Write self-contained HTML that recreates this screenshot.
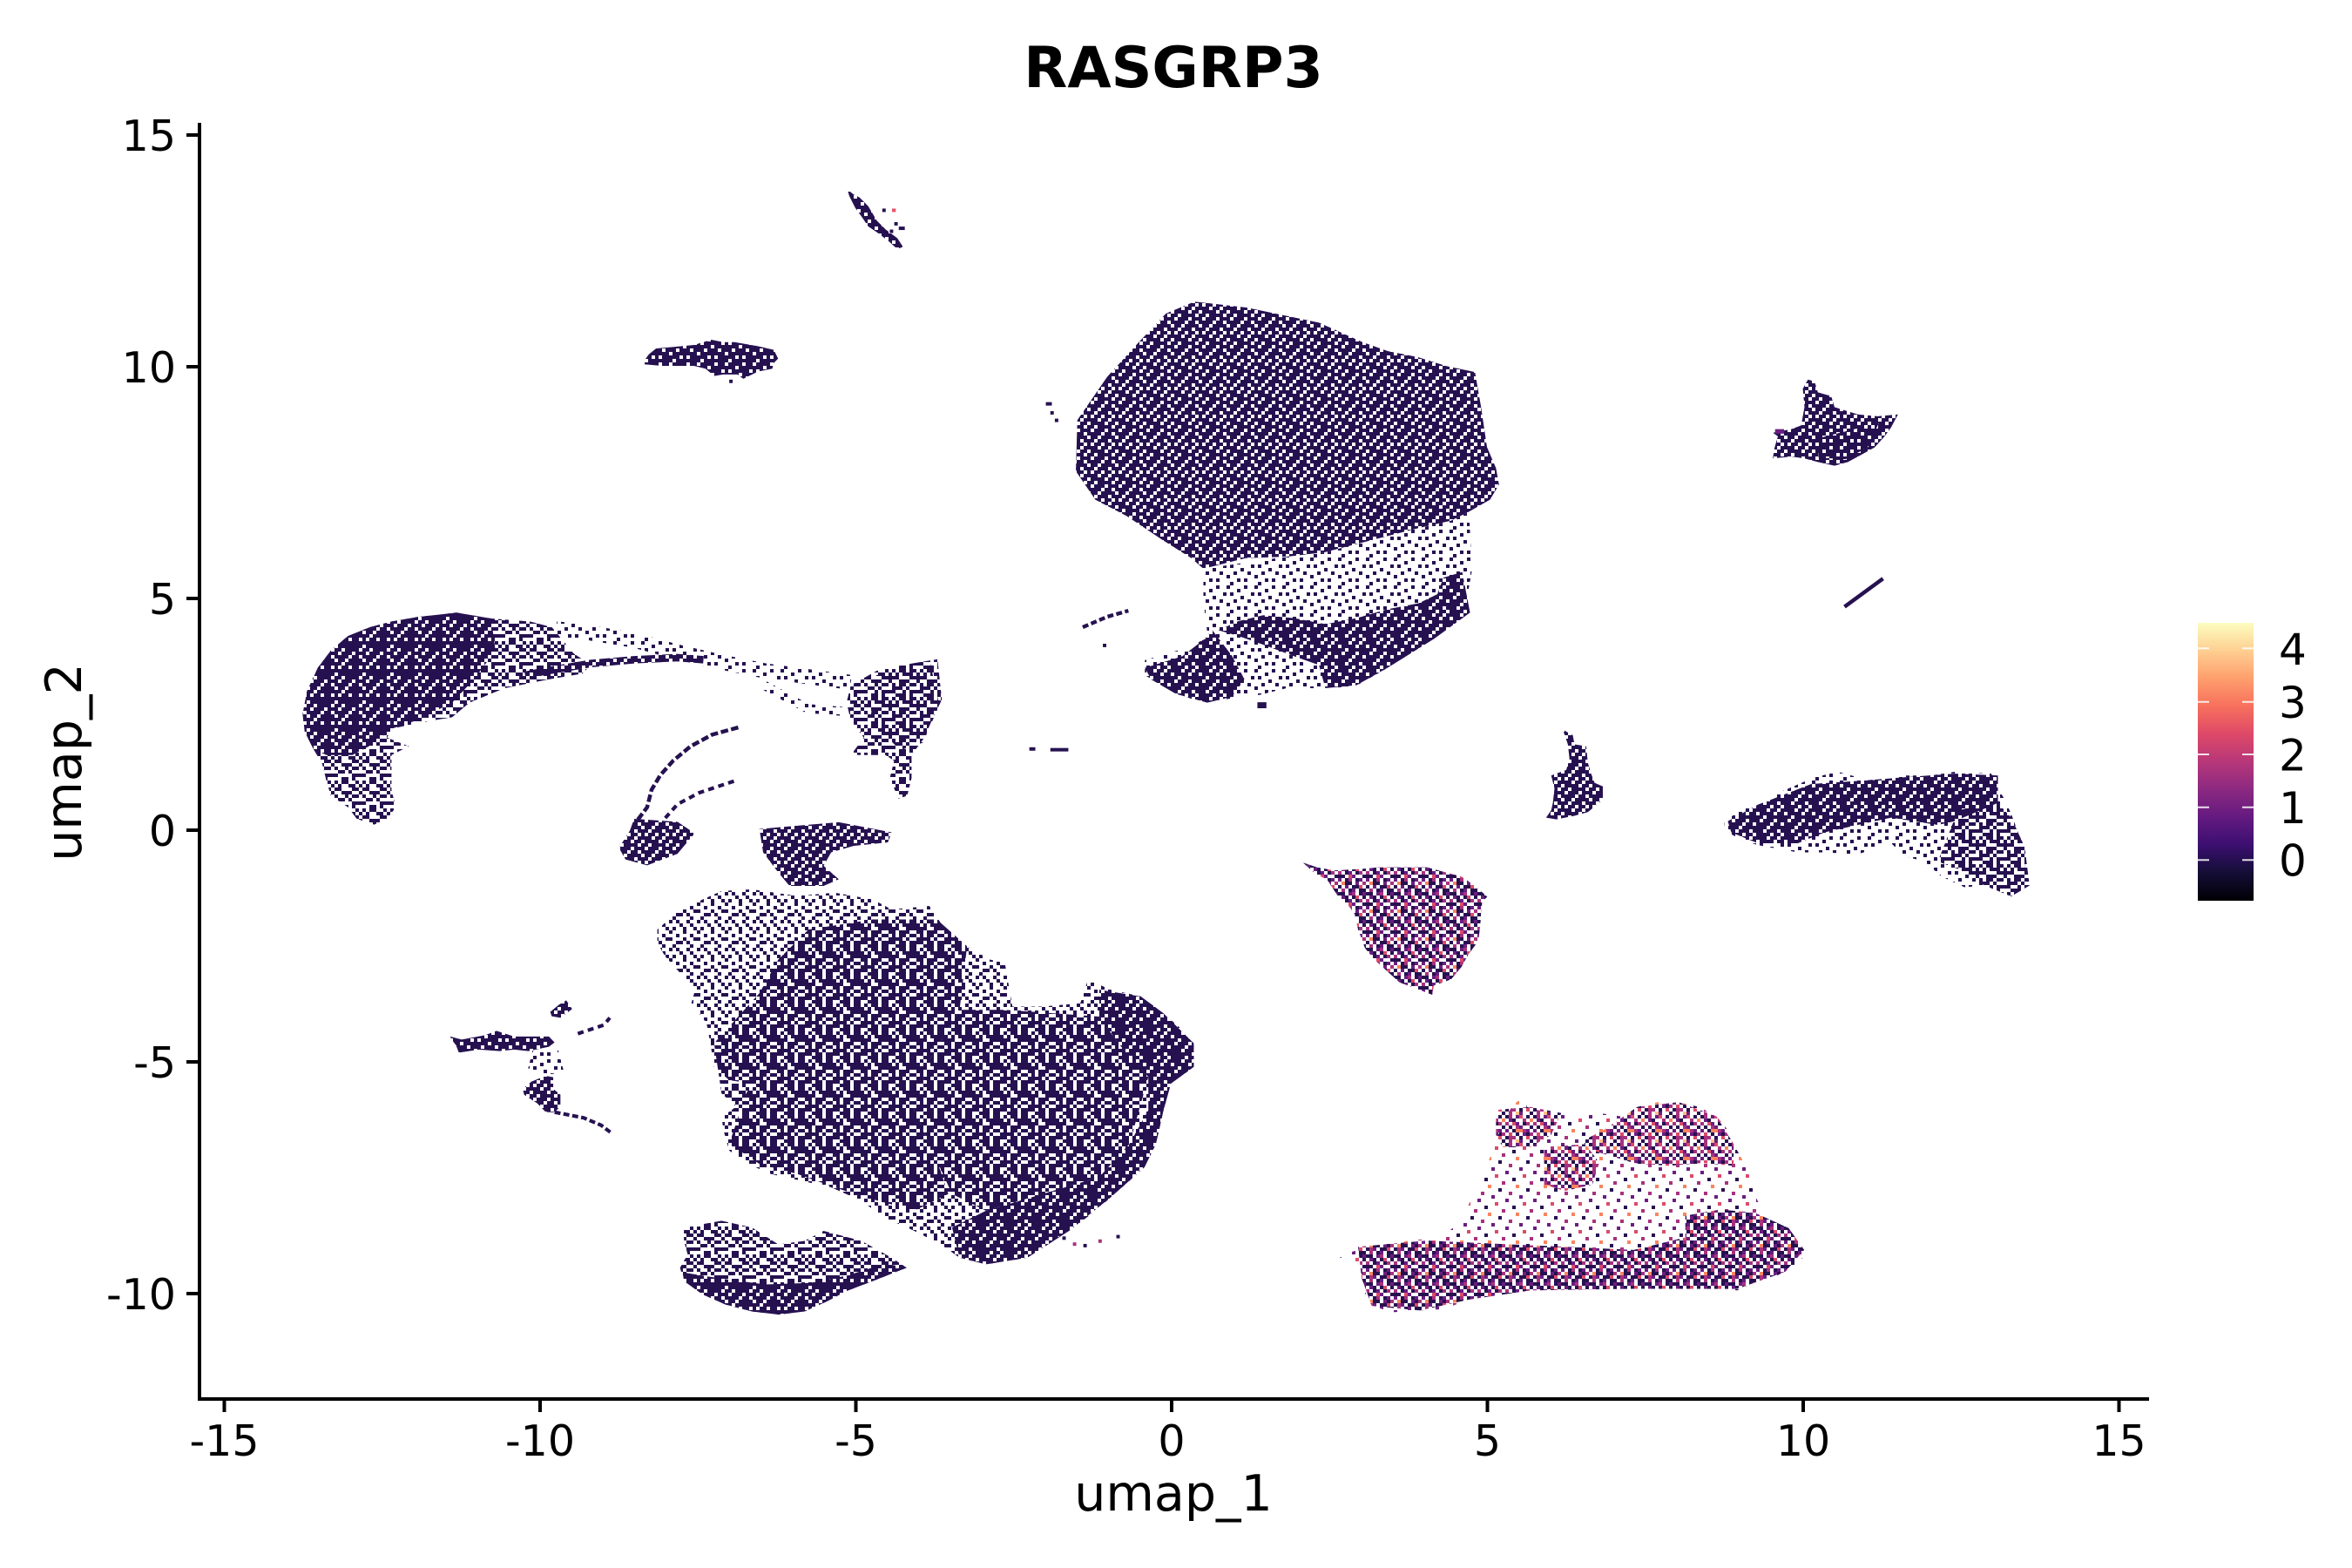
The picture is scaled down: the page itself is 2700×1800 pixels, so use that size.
<!DOCTYPE html>
<html><head><meta charset="utf-8"><style>html,body{margin:0;padding:0;background:#fff}svg{display:block}</style></head>
<body>
<svg xmlns="http://www.w3.org/2000/svg" width="2700" height="1800" viewBox="0 0 2700 1800">
<defs>
<pattern id="pD" patternUnits="userSpaceOnUse" width="32" height="32" patternTransform="scale(0.58055)"><path fill="#261150" d="M0 0h12v4H0z M16 0h8v4h-8z M28 0h4v4h-4z M4 4h16v4H4z M24 4h8v4h-8z M0 8h8v4H0z M12 8h16v4H12z M0 12h4v4H0z M8 12h12v4H8z M24 12h8v4h-8z M0 16h16v4H0z M20 16h8v4h-8z M4 20h8v4H4z M16 20h16v4H16z M0 24h8v4H0z M12 24h12v4H12z M28 24h4v4h-4z M0 28h4v4H0z M8 28h8v4H8z M20 28h8v4h-8z"/></pattern>
<pattern id="pM" patternUnits="userSpaceOnUse" width="32" height="32" patternTransform="scale(0.58055)"><path fill="#261150" d="M0 0h4v4H0z M8 0h8v4H8z M24 0h4v4h-4z M4 4h4v4H4z M16 4h8v4h-8z M28 4h4v4h-4z M0 8h8v4H0z M20 8h8v4h-8z M8 12h12v4H8z M28 12h4v4h-4z M0 16h4v4H0z M12 16h4v4h-4z M20 16h8v4h-8z M4 20h8v4H4z M16 20h4v4h-4z M0 24h4v4H0z M20 24h12v4H20z M8 28h8v4H8z M20 28h4v4h-4z"/></pattern>
<pattern id="pS" patternUnits="userSpaceOnUse" width="32" height="32" patternTransform="scale(0.58055)"><path fill="#261150" d="M0 0h4v4H0z M20 0h4v4h-4z M12 4h4v4h-4z M4 8h4v4H4z M28 8h4v4h-4z M16 12h4v4h-4z M8 16h4v4H8z M24 16h4v4h-4z M0 20h4v4H0z M12 24h4v4h-4z M20 24h4v4h-4z M4 28h4v4H4z"/></pattern>
<pattern id="pL" patternUnits="userSpaceOnUse" width="32" height="32" patternTransform="scale(0.58055)"><path fill="#261150" d="M0 0h4v4H0z M20 0h4v4h-4z M12 4h4v4h-4z M4 8h4v4H4z M28 8h4v4h-4z M16 12h4v4h-4z M8 16h4v4H8z M24 16h4v4h-4z M0 20h4v4H0z M12 24h4v4h-4z M20 24h4v4h-4z M4 28h4v4H4z M8 0h4v4H8z M24 4h4v4h-4z M16 8h4v4h-4z M0 12h4v4H0z M28 20h4v4h-4z M8 24h4v4H8z M24 28h4v4h-4z M16 20h4v4h-4z"/></pattern>
<pattern id="pX" patternUnits="userSpaceOnUse" width="32" height="32" patternTransform="scale(0.58055)"><rect width="32" height="32" fill="#261150"/><path fill="#fff" d="M0 0h4v4H0z M20 0h4v4h-4z M12 4h4v4h-4z M4 8h4v4H4z M28 8h4v4h-4z M16 12h4v4h-4z M8 16h4v4H8z M24 16h4v4h-4z M0 20h4v4H0z M12 24h4v4h-4z M20 24h4v4h-4z M4 28h4v4H4z"/></pattern>
<pattern id="pC" patternUnits="userSpaceOnUse" width="32" height="32" patternTransform="scale(0.58055)">
<path fill="#261150" d="M0 0h4v4h-4z M24 0h4v4h-4z M8 4h4v4h-4z M20 8h4v4h-4z M4 12h4v4h-4z M28 12h4v4h-4z M8 16h4v4h-4z M12 20h4v4h-4z M0 24h4v4h-4z M16 24h4v4h-4z M28 28h4v4h-4z"/>
<path fill="#6b1d80" d="M12 0h4v4h-4z M4 4h4v4h-4z M12 8h4v4h-4z M16 12h4v4h-4z M0 16h4v4h-4z M24 16h4v4h-4z M20 20h4v4h-4z M16 28h4v4h-4z"/>
<path fill="#a8317d" d="M4 0h4v4h-4z M20 4h4v4h-4z M0 8h4v4h-4z M24 8h4v4h-4z M12 12h4v4h-4z M20 16h4v4h-4z M28 20h4v4h-4z M8 24h4v4h-4z M4 28h4v4h-4z"/>
<path fill="#dc4a69" d="M16 0h4v4h-4z M8 8h4v4h-4z M4 20h4v4h-4z M24 24h4v4h-4z"/>
<path fill="#f8845f" d="M28 4h4v4h-4z M16 16h4v4h-4z"/>
<path fill="#fdc086" d="M12 28h4v4h-4z"/>
</pattern>
<pattern id="pC2" patternUnits="userSpaceOnUse" width="32" height="32" patternTransform="scale(0.58055)">
<path fill="#261150" d="M0 0h4v4h-4z M4 0h4v4h-4z M24 0h4v4h-4z M8 4h4v4h-4z M16 4h4v4h-4z M28 4h4v4h-4z M8 8h4v4h-4z M20 8h4v4h-4z M0 12h4v4h-4z M4 12h4v4h-4z M28 12h4v4h-4z M8 16h4v4h-4z M20 16h4v4h-4z M8 20h4v4h-4z M12 20h4v4h-4z M0 24h4v4h-4z M16 24h4v4h-4z M20 24h4v4h-4z M12 28h4v4h-4z M24 28h4v4h-4z M28 28h4v4h-4z"/>
<path fill="#6b1d80" d="M12 0h4v4h-4z M28 0h4v4h-4z M4 4h4v4h-4z M12 8h4v4h-4z M16 12h4v4h-4z M0 16h4v4h-4z M24 16h4v4h-4z M20 20h4v4h-4z M8 24h4v4h-4z M16 28h4v4h-4z"/>
<path fill="#a8317d" d="M16 0h4v4h-4z M0 8h4v4h-4z M24 8h4v4h-4z M12 16h4v4h-4z M28 20h4v4h-4z M4 28h4v4h-4z"/>
<path fill="#dc4a69" d="M20 4h4v4h-4z M12 12h4v4h-4z M24 24h4v4h-4z"/>
<path fill="#f8845f" d="M4 20h4v4h-4z"/>
</pattern>
<pattern id="pCs" patternUnits="userSpaceOnUse" width="32" height="32" patternTransform="scale(0.58055)">
<path fill="#261150" d="M8 8h4v4h-4z M24 20h4v4h-4z"/>
<path fill="#6b1d80" d="M0 0h4v4h-4z M16 28h4v4h-4z"/>
<path fill="#a8317d" d="M28 12h4v4h-4z M4 24h4v4h-4z"/>
<path fill="#dc4a69" d="M20 4h4v4h-4z"/>
<path fill="#f8845f" d="M12 16h4v4h-4z"/>
</pattern>
<linearGradient id="mg" x1="0" y1="1" x2="0" y2="0">
<stop offset="0" stop-color="#000004"/><stop offset="0.1" stop-color="#140e36"/><stop offset="0.2" stop-color="#3b0f70"/><stop offset="0.3" stop-color="#641a80"/><stop offset="0.4" stop-color="#8c2981"/><stop offset="0.5" stop-color="#b73779"/><stop offset="0.6" stop-color="#de4968"/><stop offset="0.7" stop-color="#f7705c"/><stop offset="0.8" stop-color="#fe9f6d"/><stop offset="0.9" stop-color="#fecf92"/><stop offset="1" stop-color="#fcfdbf"/>
</linearGradient>
</defs>
<rect width="2700" height="1800" fill="#fff"/>

<g transform="scale(1.7225)">
<!-- A streak -->
<polygon fill="url(#pX)" points="564.7,126.2 568.9,129.6 572.8,131.6 578.6,137.4 584.4,147.1 590.2,152.9 598,158.7 601.8,164.5 598,166 592.1,160.6 584.4,154.8 578.6,150.9 574.7,145.1 569.9,138.4 566,130.6"/>
<g fill="#261150"><rect x="588" y="139" width="2.3" height="2.3"/><rect x="596" y="148" width="2.3" height="2.3"/><rect x="599" y="151" width="4" height="2.3"/><rect x="593" y="153" width="2.3" height="2.3"/></g>
<rect x="594.5" y="139" width="2.5" height="2.3" fill="#e8556a"/>
<!-- B blob -->
<polygon fill="url(#pX)" points="429.6,240 432.5,236.1 437.3,232.2 449,231.2 462.5,229.9 474.1,226.4 481.9,228 489.6,228 505,230.7 515.7,233.2 518.6,239 515.7,241.9 514.7,245.7 505,247.7 495.4,252.5 491.5,249.6 481.9,249.6 476,250.6 470.2,245.7 462.5,243.8 441.2,243.8 429.6,242.8"/>
<rect x="486" y="253" width="2.3" height="2.3" fill="#261150"/>

<!-- C top cluster -->
<polygon fill="url(#pD)" points="796,201 831,205 879,215 908,228 925,234 945,238 964,244 983,248 987,271 991,298 997,312 999,323 993,333 979,341 967,347 945,352 914,360 883,368 858,371 830,372 802,379 794,372 775,360 751,344 730,333 717,314 718,280 738,251 759,228 777,209"/>
<polygon fill="url(#pS)" points="802,379 858,371 883,368 914,360 945,352 967,347 979,341 981,380 976,408 956,425 925,445 904,457 883,459 860,458 840,463 825,465 800,468 784,462 763,450 763,440 790,432 805,425 802,400"/>
<polygon fill="url(#pD)" points="974.5,381.2 979.7,408.3 955.8,425.7 924.7,445.1 904,456.7 883.3,458.6 879,443.2 862.5,437.4 841.8,429.6 825.2,423.8 812,420 825.2,414 841.8,410 862.5,412 883.3,416 904,412 924.7,406 945.5,402 957.9,396 962,385"/>
<polygon fill="url(#pD)" points="808,420 821,437 829.4,452.8 821,464.4 804.5,468.3 783.8,462.5 767.2,452.8 763,445.1 788,437.4 800,428"/>
<polyline fill="none" stroke="#261150" stroke-width="2.5" stroke-dasharray="4 2" points="721.6,418 738,411 752,407"/>
<g fill="#261150"><rect x="697" y="268" width="4" height="2.3"/><rect x="700" y="274" width="2.3" height="2.3"/><rect x="703" y="279" width="2.3" height="2.3"/><rect x="735" y="429" width="2.3" height="2.3"/><rect x="838" y="468" width="6" height="4"/><rect x="686" y="498" width="4" height="2.3"/><rect x="700" y="498.5" width="12" height="2.3"/></g>

<!-- D left arc -->
<polygon fill="url(#pM)" points="304.2,408.3 327.3,412.2 353.3,414.2 367.8,418 382.2,435.4 393.8,443.2 388,449 364.9,452.9 336,458.7 312.9,468.3 301.3,478 278.2,481.9 260.9,485.7 258,491.6 272.5,497.4 260.9,503.2 260.9,514.8 260.9,526.4 263.8,538 258,545.7 249.4,549.6 237.8,545.7 232,538 220.5,530.3 217.6,520.6 214.7,509 208.9,499.3 203.1,487.7 201.7,476.1 204.6,460.6 211.8,445.1 220.5,433.5 232,423.8 246.5,418 260.9,414.2 278.2,411.2"/>
<polygon fill="url(#pD)" points="260.9,414.2 278.2,411.2 304.2,408.3 327.3,412.2 330.2,433.5 315.8,452.9 301.3,468.3 278.2,479.9 260.9,485.7 249.4,495.4 234.9,503.2 217.6,503.2 208.9,499.3 203.1,487.7 201.7,476.1 204.6,460.6 211.8,445.1 220.5,433.5 232,423.8 246.5,418"/>
<polyline fill="none" stroke="url(#pS)" stroke-width="10" points="370.6,419 393.8,421.9 422.6,426.7 451.5,434.5 480.4,441.2 509.3,447 538.2,450.9 567,454.8"/>
<polyline fill="none" stroke="url(#pD)" stroke-width="5" points="350,450 364.9,447 393.8,442.2 422.6,439.7 451.5,438.3 468.8,439.7"/>
<polyline fill="none" stroke="url(#pS)" stroke-width="6" points="509.3,456.7 523.7,464.5 538.2,472.2 561.3,474.1"/>
<polyline fill="none" stroke="#261150" stroke-width="2.6" stroke-dasharray="5 2" points="492,484.8 474.6,489.6 460.2,497.4 448.6,507 440,516.7 434.2,526.4 431.3,538 422.6,549.6"/>
<polyline fill="none" stroke="#261150" stroke-width="2.4" stroke-dasharray="4 3" points="489.1,520.6 466,528.3 451.5,536 442.9,545.7"/>
<polygon fill="url(#pM)" points="584.4,447 601.7,443.2 624.8,439.3 627.7,466.4 621.9,478 616.1,491.6 607.5,503.2 607.5,518.6 604.6,530.3 598.8,532.2 593,518.6 595.9,507 590.1,503.2 567,503.2 575.7,491.6 567,480 564.2,468.3 567,456.7"/>
<polygon fill="url(#pS)" points="584,450 620,442 626,470 615,495 600,500 580,480"/>
<!-- E blob -->
<polygon fill="url(#pD)" points="422.6,545.7 451.5,547.7 463,555.4 451.5,569 431.3,576.7 416.9,572.8 412.5,565.1 419.8,553.5"/>

<!-- left sparse cluster -->
<polygon fill="url(#pX)" points="300,690.8 307.7,692.8 323.2,689.9 330.9,687 342.6,690.8 352.2,690.8 365.8,690.8 369.6,694.7 365.8,697.6 352.2,700.5 342.6,699.5 332.9,700.5 319.3,699.5 305.8,701.5 303.9,696.6 301,692.8"/>
<polygon fill="url(#pD)" points="366.7,674.4 372.5,669.6 377.4,666.7 381.3,672.5 373.5,678.3 367.7,677.3"/>
<polygon fill="url(#pD)" points="348.4,725.7 354.2,720.8 363.8,717 368.7,717.9 368.7,725.7 373.5,729.5 373.5,737.3 369.6,741.2 363.8,741.2 358,735.3 352.2,731.5 349.3,729.5"/>
<polygon fill="url(#pS)" points="355,700 372,700 376,715 365,716 352,712"/>
<polyline fill="none" stroke="#261150" stroke-width="2.4" stroke-dasharray="4 2" points="369.6,741.2 389,745 400.6,749.9 408.3,755.7"/>
<polyline fill="none" stroke="#261150" stroke-width="2.4" stroke-dasharray="4 3" points="385.1,688.9 402.5,683.1 406.4,678.3"/>

<!-- G bottom-left big cluster -->
<polygon fill="url(#pD)" points="506.1,552.5 531.3,550.3 559,548 594.2,554.7 591.7,561.4 569,563.7 553.9,568.1 548.9,577 559,586 548.9,590.4 526.2,590.4 518.7,581.5 508.6,568.1"/>
<polygon fill="url(#pL)" points="438.1,619.5 450.7,608.3 468.3,599.4 480.9,593.8 501.1,592.7 531.3,597.1 556.4,594.9 581.6,599.4 594.2,606.1 619.4,603.8 626.9,615 644.5,630.6 659.6,639.5 669.7,641.8 674.7,670.8 694.9,670.8 720,668.6 725.1,652.9 740.2,659.6 760.3,664.1 775.4,675.3 788,686.4 795.6,695.3 795.6,711 780.4,722.1 775.4,740 770.4,762.3 762.8,777.9 752.8,786.9 740.2,798 730.1,807 712.5,820.3 694.9,829.3 684.8,838.2 657.1,842.6 639.5,838.2 626.9,829.3 609.3,820.3 589.2,811.4 574.1,800.3 553.9,791.3 533.8,786.9 513.6,782.4 498.5,775.7 486,766.8 482.2,753.4 480.9,744.5 493.5,735.5 501.1,722.1 486,719.9 475.9,711 473.4,695.3 470.9,682 460.8,668.6 463.3,659.6 443.2,637.3 438.1,628.4"/>
<polygon fill="url(#pM)" points="538.8,619.5 581.6,612.8 624.4,612.8 644.5,630.6 639.5,673 619.4,706.5 609.3,740 624.4,773.5 632,795.7 609.3,806.9 569,795.7 531.3,782.4 506.1,775.7 486,762.3 493.5,740 480.9,728.8 475.9,695.3 506.1,661.9 518.7,639.5"/>
<polygon fill="url(#pM)" points="639.5,673 669.7,673 732.6,677.5 745.2,695.3 765.3,717.7 752.8,762.3 732.6,784.5 694.9,795.7 657.1,806.9 634.5,795.7 624.4,773.5 609.3,740 619.4,706.5"/>
<polygon fill="url(#pD)" points="732.6,659.6 760.3,664.1 775.4,675.3 795.6,695.3 795.6,711 780.4,722.1 775.4,740 770.4,762.3 762.8,777.9 740.2,798 712.5,820.3 684.8,838.2 657.1,842.6 639.5,838.2 634.5,818.1 657.1,806.9 694.9,795.7 732.6,784.5 752.8,762.3 765.3,740 765.3,717.7 745.2,695.3 732.6,677.5"/>
<polygon fill="url(#pS)" points="440,620 451,610 466,603 474,612 468,630 452,636"/>
<polygon fill="url(#pM)" points="455.8,818.1 480.9,813.6 501.1,818.1 518.7,829.3 536.3,827 548.9,820.3 574.1,827 594.2,838.2 604.3,844.9 581.6,853.8 564,860.5 551.4,867.2 536.3,874 518.7,876.1 501.1,874 483.4,869.4 468.3,862.7 455.8,853.8 453.2,844.9 458.3,836 455.8,827"/>
<polygon fill="url(#pD)" points="455,848 480,852 510,856 540,855 565,850 590,842 604,845 581.6,853.8 564,860.5 551.4,867.2 536.3,874 518.7,876.1 501.1,874 483.4,869.4 468.3,862.7 455.8,853.8"/>
<g fill="#261150"><rect x="708" y="824" width="2.3" height="2.3"/><rect x="722" y="829" width="2.3" height="2.3"/><rect x="744" y="823" width="2.3" height="2.3"/></g>
<g fill="#a8317d"><rect x="715" y="828" width="2.3" height="2.3"/><rect x="732" y="826" width="2.3" height="2.3"/></g>

<!-- H pink cluster -->
<polygon fill="url(#pC2)" points="868.4,574.9 877.6,578 889.1,580.1 907.4,579.1 918.9,578 939.6,578 951,578 962.5,581.1 974,584.2 983.2,590.5 991.2,597.7 987.8,600.8 986.6,615.3 985.5,625.7 983.2,629.9 978.6,636.1 974,644.4 967.1,652.7 955.6,656.8 954.5,663 946.4,659.9 932.7,654.7 925.8,648.5 916.6,640.2 909.7,631.9 905.1,619.5 902.8,609.1 898.2,602.9 891.3,596.7 884.5,586.3 876.4,582.2"/>

<!-- M bottom-right colored cluster -->
<polygon fill="url(#pCs)" points="1015.3,729.4 1017.6,737.7 1024.5,739.7 1033.7,741.8 1040.6,742.8 1054.4,743.9 1065.8,741.8 1079.6,743.9 1091.1,737.7 1104.9,734.5 1118.6,734.5 1132.4,737.7 1143.9,743.9 1150.8,752.2 1155.4,762.5 1164.6,779.1 1169.2,795.7 1176,810.2 1185.2,816.4 1194.4,824.7 1201.3,830.9 1202.4,837.2 1196.7,843.4 1189.8,847.5 1180.6,851.7 1166.9,855.8 1157.7,860 1141.6,856.8 1123.2,857.9 1104.9,858.9 1088.8,858.9 1065.8,858.9 1042.9,858.9 1019.9,860 996.9,861 978.6,866.2 962.5,872.4 946.4,873.4 928.1,874.5 914.3,870.3 909.7,862 908.6,851.7 905.1,843.4 900.5,838.2 891.3,839.2 898.2,835.1 912,830.9 923.5,828.9 939.6,826.8 951,825.7 962.5,822.6 974,814.4 980.9,797.8 987.8,783.3 992.4,772.9 997,760.5 1001.6,748.1 1006.2,739.7"/>
<polygon fill="url(#pC2)" points="905.1,830.9 951,826.8 996.9,828.9 1042.9,830.9 1088.8,833 1123.2,824.7 1123.2,810.2 1146.2,806.1 1169.2,808.1 1192.1,818.5 1202.4,833 1189.8,847.5 1157.7,859 1088.8,858.9 1019.9,860 978.6,866.2 946.4,873.4 914.3,870.3 907.4,851.7"/>
<polygon fill="url(#pC)" points="1091.1,737.7 1118.6,734.5 1143.9,743.9 1155.4,762.5 1155.4,777 1134.7,775 1111.8,777 1088.8,775 1061.2,766.7 1054.4,760.5 1070.4,752.2"/>
<polygon fill="url(#pC)" points="997,739.7 1019.9,737.7 1040.6,741.8 1033.7,756.3 1019.9,764.6 1001.6,764.6 997,756.3"/>
<polygon fill="url(#pC)" points="1029.1,764.6 1056.7,762.5 1065.8,775 1061.2,789.5 1042.9,793.7 1029.1,789.5"/>

<!-- I small cluster -->
<polygon fill="url(#pD)" points="1041.6,486.3 1048.2,490 1049.3,496.1 1057.1,497.3 1058.2,508.3 1060.4,515.6 1062.7,521.7 1068.2,524.1 1068.2,532.7 1062.7,537.6 1058.2,541.2 1049.3,543.7 1037.1,546.1 1030.4,544.9 1033.8,540 1034.9,535.1 1036,525.4 1033.8,516.8 1043.8,513.1 1046,505.8 1044.9,496.1"/>
<!-- J cluster -->
<polygon fill="url(#pD)" points="1204.9,253 1209.3,254.2 1211.5,261.5 1220.4,264 1222.6,271.3 1238.2,276.2 1251.5,277.4 1264.9,276.2 1260.4,284.7 1256,290.8 1249.3,298.2 1240.4,303.1 1231.5,307.9 1222.6,310.4 1211.5,307.9 1202.6,305.5 1193.8,304.3 1181.5,305.5 1182.7,298.2 1184.9,290.8 1181.5,288.4 1193.8,286 1200.4,283.5 1202.6,271.3 1201.5,259.1"/>
<polygon fill="url(#pX)" points="1212,292 1240,285 1252,282 1245,298 1230,306 1212,305"/>
<rect x="1183" y="286" width="6" height="3" fill="#6b1d80"/>
<!-- K streak -->
<polyline fill="none" stroke="#261150" stroke-width="2.6" points="1229.3,404.4 1254.9,385.6"/>
<!-- L cluster -->
<polygon fill="url(#pS)" points="1149.3,547.3 1158.2,541.2 1171.5,535.1 1189.3,526.6 1209.3,518 1224.9,514.4 1238.2,518 1251.5,520.5 1269.3,516.8 1287.1,516.8 1302.6,514.4 1327.1,515.6 1331.5,525.4 1336,532.7 1340.4,542.5 1344.9,554.7 1349.3,564.4 1349.3,579.1 1352.6,590.1 1344.9,593.8 1340.4,597.4 1331.5,593.8 1322.6,590.1 1309.3,591.3 1293.8,584 1282.6,574.2 1269.3,570.6 1260.4,562 1238.2,569.3 1216,568.1 1198.2,568.1 1184.9,565.7 1171.5,563.2 1160.4,559.6 1151.5,554.7 1149.3,551"/>
<polygon fill="url(#pM)" points="1304.9,540 1331.5,535.1 1340.4,544.9 1349.3,564.4 1352.6,590.1 1340.4,597.4 1322.6,590.1 1304.9,579.1 1291.5,574.2"/>
<polygon fill="url(#pD)" points="1151.5,547.3 1171.5,536.3 1207.1,522.5 1238.2,520.5 1269.3,518 1302.6,515.6 1331.5,516.8 1331.5,535.1 1302.6,547.3 1291.5,549.8 1260.4,544.9 1238.2,549.8 1216,554.7 1198.2,562 1171.5,562 1153.8,554.7"/>
</g>

<!-- axes -->
<g stroke="#000" stroke-width="4" fill="none">
<path d="M229 141V1608"/>
<path d="M227 1606H2467"/>
<path d="M257.5 1606V1621M620 1606V1621M982.5 1606V1621M1345 1606V1621M1707.5 1606V1621M2070 1606V1621M2432.5 1606V1621"/>
<path d="M214 155H229M214 421H229M214 687H229M214 953H229M214 1219H229M214 1485H229"/>
</g>

<g font-family="'DejaVu Sans','Liberation Sans',sans-serif" fill="#000">
<text x="1347" y="100" font-size="65" font-weight="bold" text-anchor="middle">RASGRP3</text>
<g font-size="49" text-anchor="middle">
<text x="257.5" y="1671">-15</text>
<text x="620" y="1671">-10</text>
<text x="982.5" y="1671">-5</text>
<text x="1345" y="1671">0</text>
<text x="1707.5" y="1671">5</text>
<text x="2070" y="1671">10</text>
<text x="2432.5" y="1671">15</text>
</g>
<g font-size="49" text-anchor="end">
<text x="202" y="173">15</text>
<text x="202" y="439">10</text>
<text x="202" y="705">5</text>
<text x="202" y="971">0</text>
<text x="202" y="1237">-5</text>
<text x="202" y="1503">-10</text>
</g>
<text x="1347" y="1734" font-size="57" text-anchor="middle">umap_1</text>
<text transform="translate(93,875) rotate(-90)" font-size="57" text-anchor="middle">umap_2</text>
</g>

<!-- colorbar -->
<rect x="2523" y="715" width="64" height="319" fill="url(#mg)"/>
<g stroke="#fff" stroke-width="2" opacity="0.85">
<path d="M2523 744.3h13M2574 744.3h13M2523 805.7h13M2574 805.7h13M2523 866h13M2574 866h13M2523 926.7h13M2574 926.7h13M2523 987.3h13M2574 987.3h13"/>
</g>
<g font-family="'DejaVu Sans','Liberation Sans',sans-serif" font-size="50" fill="#000">
<text x="2616" y="763">4</text>
<text x="2616" y="824">3</text>
<text x="2616" y="884.5">2</text>
<text x="2616" y="945">1</text>
<text x="2616" y="1005.5">0</text>
</g>
</svg>
</body></html>
